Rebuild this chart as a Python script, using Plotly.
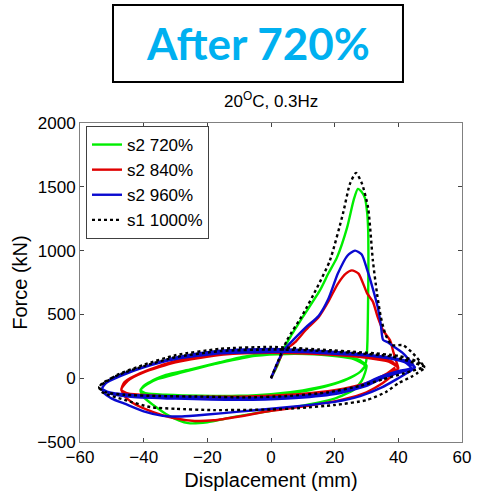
import plotly.graph_objects as go

# ---- data (displacement mm, force kN) ----
names = ["s2 720%", "s2 840%", "s2 960%", "s1 1000%"]
colors = ["#00ee00", "#e00000", "#0a0ad0", "#000000"]

green_x = [0, 2, 4, 6, 10, 15.4, 18, 20.7, 23.9, 26, 27.3, 28.5, 29.5, 30.2, 30.5, 30.6, 30.5, 30.3, 30, 29.5,
           28, 22, 12, 0, -8, -16, -25, -33, -38, -41,
           -40, -37, -33, -29, -26, -20, -12, 0, 10, 20, 26, 28.5, 29.5, 30,
           27, 18, 5, -5, -16, -27, -35, -39, -41,
           -39, -33, -22, -10, 0, 10, 18, 24, 28, 29.5,
           26, 15, 0, -10, -18, -28, -36, -40, -41,
           -38, -28, -12, 0, 12, 20, 25, 28.5, 30]
green_y = [0, 100, 230, 320, 480, 690, 820, 945, 1180, 1400, 1484, 1460, 1414, 1300, 1180, 900, 600, 297, 150, 100,
           140, 175, 195, 195, 170, 125, 70, 25, -30, -94,
           -150, -210, -280, -330, -352, -345, -305, -255, -215, -160, -90, -20, 40, 100,
           150, 180, 190, 175, 120, 55, 0, -50, -94,
           -120, -130, -138, -138, -125, -95, -55, -5, 50, 100,
           150, 185, 190, 160, 110, 45, -10, -60, -100,
           -130, -145, -145, -135, -95, -45, 5, 60, 110]

red_x = [0, 2, 4, 7.5, 11, 15, 18, 21, 23.5, 25.4, 27.5, 30.2, 32, 33.5, 35.2, 37.4, 38.5, 39.5, 40,
         38, 33, 25, 12, 0, -15, -30, -41, -45, -47,
         -46, -43, -37, -31, -24, -18, -10, 0, 12, 22, 30, 35, 38, 40,
         37, 30, 18, 0, -15, -30, -40, -45, -47,
         -45, -38, -25, -10, 0, 15, 25, 32, 37, 40,
         37, 25, 5, -15, -30, -40, -46, -47,
         -44, -30, -10, 5, 20, 30, 36, 39]
red_y = [0, 110, 210, 280, 380, 480, 600, 740, 820, 845, 820, 665, 600, 480, 375, 297, 200, 120, 80,
         130, 165, 185, 200, 215, 195, 135, 40, -20, -85,
         -140, -200, -265, -310, -335, -330, -300, -255, -215, -170, -110, -40, 20, 80,
         130, 160, 185, 200, 185, 125, 45, -20, -90,
         -120, -135, -145, -145, -138, -110, -70, -20, 40, 80,
         140, 180, 200, 190, 130, 50, -30, -95,
         -130, -150, -155, -140, -100, -40, 30, 85]

blue_x = [0, 2, 4, 7, 11, 15, 18, 21, 24, 26.4, 28.5, 30.2, 32, 33.5, 34.5, 35.2, 36.8, 39, 41.5, 43.5, 45.2,
          43, 38, 30, 18, 0, -16, -28, -39, -47, -51, -53,
          -52.5, -50, -46, -40, -34, -28, -20, -10, 0, 10, 20, 28, 35, 40, 44, 45.2,
          43, 36, 25, 10, 0, -16, -30, -40, -47, -52, -53,
          -51, -45, -35, -20, -9, 5, 18, 28, 34, 40, 44,
          42, 34, 18, 0, -16, -30, -39, -47, -52, -53,
          -50, -44, -30, -10, 5, 20, 30, 35, 42, 45]
blue_y = [0, 120, 220, 300, 400, 490, 620, 820, 960, 1000, 970, 850, 700, 560, 420, 300, 280, 240, 195, 140, 86,
          130, 160, 185, 210, 230, 215, 170, 95, 30, -20, -75,
          -115, -160, -200, -260, -295, -300, -285, -262, -240, -215, -185, -140, -70, 0, 60, 86,
          120, 160, 190, 205, 205, 195, 150, 85, 20, -40, -80,
          -110, -130, -140, -148, -155, -145, -117, -60, 8, 55, 80,
          125, 170, 195, 215, 205, 160, 95, 25, -40, -85,
          -125, -145, -160, -170, -160, -125, -60, 0, 55, 80]

black_x = [0, 2, 5, 10, 14.5, 18.5, 22.6, 24.8, 26.7, 28.6, 30.5, 32, 33.3, 34.5, 36, 38, 41.5, 44.6, 47.8, 48.4,
           46, 40, 30, 15, 0, -16, -30, -40, -48, -52, -54,
           -53, -46, -38, -30, -18, 0, 9, 20, 30, 36, 40, 44, 46, 48.4,
           45, 38, 25, 10, 0, -16, -30, -40, -48, -53, -54,
           -52, -46, -35, -20, -8, 5, 18, 28, 35, 42, 48]
black_y = [0, 120, 297, 500, 711, 922, 1289, 1523, 1609, 1523, 1336, 922, 664, 480, 340, 260, 258, 195, 102, 86,
           130, 175, 200, 225, 245, 230, 180, 105, 30, -30, -70,
           -110, -170, -226, -240, -250, -245, -234, -210, -172, -110, -40, 10, 40, 86,
           120, 170, 200, 220, 225, 212, 165, 95, 25, -40, -75,
           -110, -130, -140, -145, -150, -140, -110, -60, -10, 40, 85]

xs = [green_x, red_x, blue_x, black_x]
ys = [green_y, red_y, blue_y, black_y]
dashes = ["solid", "solid", "solid", "dot"]

x_ticks = [-60, -40, -20, 0, 20, 40, 60]
y_ticks = [-500, 0, 500, 1000, 1500, 2000]

fig = go.Figure()
for n, c, x, y, d in zip(names, colors, xs, ys, dashes):
    fig.add_trace(go.Scatter(x=x, y=y, mode="lines", name=n,
                             line=dict(color=c, width=2.4, dash=d, shape="spline", smoothing=0.6)))

font_fam = "Liberation Sans, Arial, sans-serif"
fig.update_layout(
    width=489, height=492,
    margin=dict(l=80, r=27, t=123, b=50),
    paper_bgcolor="white", plot_bgcolor="white",
    font=dict(family=font_fam, size=17, color="black"),
    legend=dict(x=0.0157, y=0.9906, xanchor="left", yanchor="top",
                bordercolor="#404040", borderwidth=1, bgcolor="white",
                font=dict(size=17), itemwidth=30, tracegroupgap=0),
    xaxis=dict(range=[-60, 60], tickvals=x_ticks, ticks="inside", ticklen=4,
               showline=True, linecolor="#808080", linewidth=1, mirror="ticks",
               showgrid=False, zeroline=False, automargin=False,
               title=dict(text="Displacement (mm)", standoff=6)),
    yaxis=dict(range=[-500, 2000], tickvals=y_ticks, ticks="inside", ticklen=4,
               showline=True, linecolor="#808080", linewidth=1, mirror="ticks",
               showgrid=False, zeroline=False, automargin=False,
               title=dict(text="Force (kN)", standoff=4)),
)

fig.add_shape(type="rect", xref="paper", yref="paper",
              x0=0.0864, x1=0.8455, y0=1.1285, y1=1.370,
              line=dict(color="black", width=2), fillcolor="white", layer="below")
fig.add_annotation(xref="paper", yref="paper", x=0.466, y=1.251, text="<b>After 720%</b>",
                   showarrow=False, font=dict(family="Lato, Open Sans, sans-serif", size=44, color="#00b0f0"),
                   xanchor="center", yanchor="middle")
fig.add_annotation(xref="paper", yref="paper", x=0.5, y=1.072, text="20<sup>O</sup>C, 0.3Hz",
                   showarrow=False, font=dict(family=font_fam, size=17, color="black"),
                   xanchor="center", yanchor="middle")

fig.write_html("out.html")
